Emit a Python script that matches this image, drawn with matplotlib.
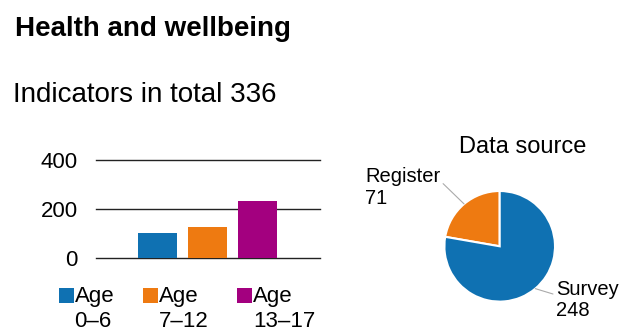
import numpy as np
import matplotlib
matplotlib.use('Agg')
import matplotlib.pyplot as plt
from matplotlib.patches import Rectangle
from matplotlib.legend_handler import HandlerPatch

plt.rcParams['font.family'] = ['Liberation Sans', 'DejaVu Sans']

title = 'Health and wellbeing'
subtitle = 'Indicators in total 336'

age_groups = ['0–6', '7–12', '13–17']
age_counts = [101, 126, 235]
age_colors = ['#0f71b2', '#ee7a11', '#a3007f']

src_labels = ['Register', 'Survey']
src_counts = [71, 248]
src_colors = ['#ee7a11', '#0f71b2']


def square_on_first_line(legend, orig_handle, xdescent, ydescent, width, height, fontsize):
    # line the legend square up with the first line ("Age")
    return Rectangle((-xdescent, -ydescent + fontsize * 0.6), height * 1.05, height * 1.05)


def main():
    W, H = 622, 331
    fig = plt.figure(figsize=(W / 100, H / 100), dpi=100)

    fig.text(15 / W, 1 - 36 / H, title, fontsize=20, fontweight='bold', va='baseline')
    fig.text(13 / W, 1 - 101.5 / H, subtitle, fontsize=20, va='baseline')

    # bar chart
    ax = fig.add_axes([96 / W, 1 - 258 / H, 224 / W, 97.7 / H])
    x = np.arange(len(age_counts))
    bars = ax.bar(x, age_counts, width=0.78, color=age_colors, zorder=3)
    ax.set_xlim(-1.22, 3.26)
    ax.set_ylim(0, 400)
    ax.set_yticks([0, 200, 400])
    ax.set_xticks([])
    ax.tick_params(axis='y', length=0, labelsize=16, pad=13)
    for s in ax.spines.values():
        s.set_visible(False)
    ax.grid(True, axis='y', color='#222222', linewidth=1.0)
    for gl in ax.get_ygridlines():
        gl.set_clip_on(False)

    leg = ax.legend(bars, ['Age\n' + a for a in age_groups], ncol=3,
                    loc='upper left', bbox_to_anchor=(-0.165, -0.29),
                    frameon=False, fontsize=16, handlelength=0.6, handleheight=0.6,
                    handletextpad=0.1, columnspacing=1.3, borderaxespad=0, borderpad=0,
                    labelspacing=0.1,
                    handler_map={Rectangle: HandlerPatch(patch_func=square_on_first_line)})
    for t in leg.get_texts():
        t.set_linespacing(1.25)
        t.set_multialignment('left')

    # pie chart
    cx, cy, r = 499.7, 246.3, 55.3
    ax2 = fig.add_axes([(cx - r) / W, 1 - (cy + r) / H, 2 * r / W, 2 * r / H])
    wedges, _ = ax2.pie(src_counts, colors=src_colors, startangle=90, counterclock=True,
                        wedgeprops=dict(edgecolor='white', linewidth=1.5))
    ax2.set_xlim(-1, 1)
    ax2.set_ylim(-1, 1)
    ax2.set_aspect('equal')
    for w, lab, n in zip(wedges, src_labels, src_counts):
        ang = np.deg2rad((w.theta1 + w.theta2) / 2)
        px, py = np.cos(ang), np.sin(ang)
        if px < 0:
            tx, ty, ha, rel = px - 0.43, py + 0.3, 'right', (1, 0.66)
        else:
            tx, ty, ha, rel = px + 0.37, py - 0.2, 'left', (0, 0.62)
        ax2.annotate(f'{lab}\n{n}', xy=(px, py), xytext=(tx, ty), ha=ha, va='center',
                     multialignment='left', fontsize=14.5, linespacing=1.15,
                     arrowprops=dict(arrowstyle='-', color='#aaaaaa', lw=0.8,
                                     shrinkA=0, shrinkB=0, relpos=rel),
                     annotation_clip=False)

    fig.text(522.5 / W, 1 - 153.3 / H, 'Data source', fontsize=17, ha='center', va='baseline')

    fig.savefig('out.png', dpi=100)


if __name__ == '__main__':
    main()
